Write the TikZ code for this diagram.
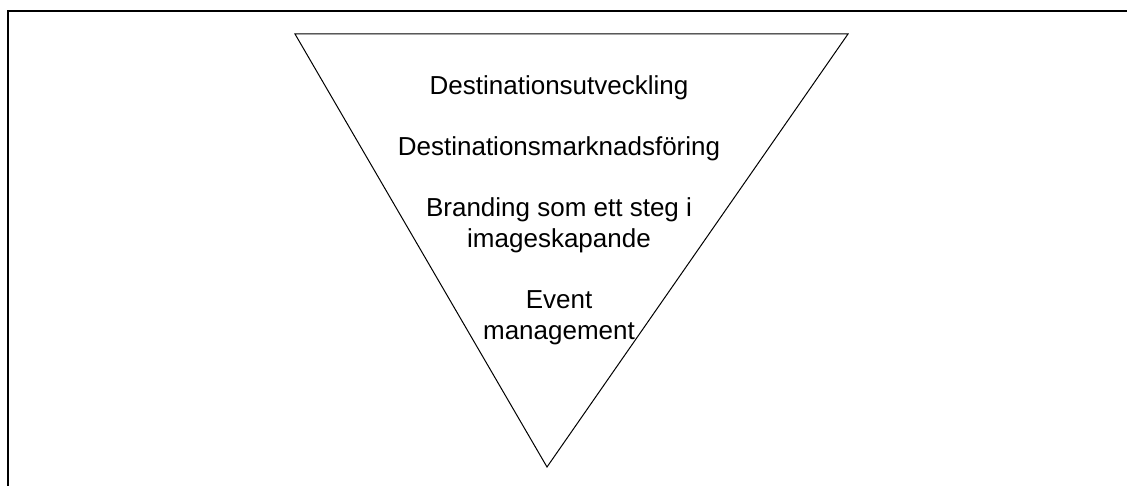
\documentclass[tikz,border=0pt]{standalone}
\usepackage{fontspec}
\setmainfont{Liberation Sans}
\begin{document}
\begin{tikzpicture}[x=1pt,y=-1pt,
  lbl/.style={anchor=base,inner sep=0pt,font=\fontsize{26}{30.5}\selectfont},
  frame/.style={draw=black,line width=1.3pt},
  tri/.style={draw=black,line width=1pt,line join=miter}]
\useasboundingbox (0,0) rectangle (1127,486);
\clip (0,0) rectangle (1127,486);
\fill[white] (0,0) rectangle (1127,486);
\draw[frame] (8,11) rectangle (1140,500);
\coordinate (tl) at (295,34);
\coordinate (tr) at (848,34);
\coordinate (bt) at (547,467);
\draw[tri] (tl) -- (tr) -- (bt) -- cycle;
\node[lbl] (l1) at (559,95) {Destinationsutveckling};
\node[lbl] (l2) at (559,156) {Destinationsmarknadsföring};
\node[lbl] (l3) at (559,217) {Branding som ett steg i};
\node[lbl] (l4) at (559,247.5) {imageskapande};
\node[lbl] (l5) at (559,308.5) {Event};
\node[lbl] (l6) at (559,339) {management};
\end{tikzpicture}
\end{document}
